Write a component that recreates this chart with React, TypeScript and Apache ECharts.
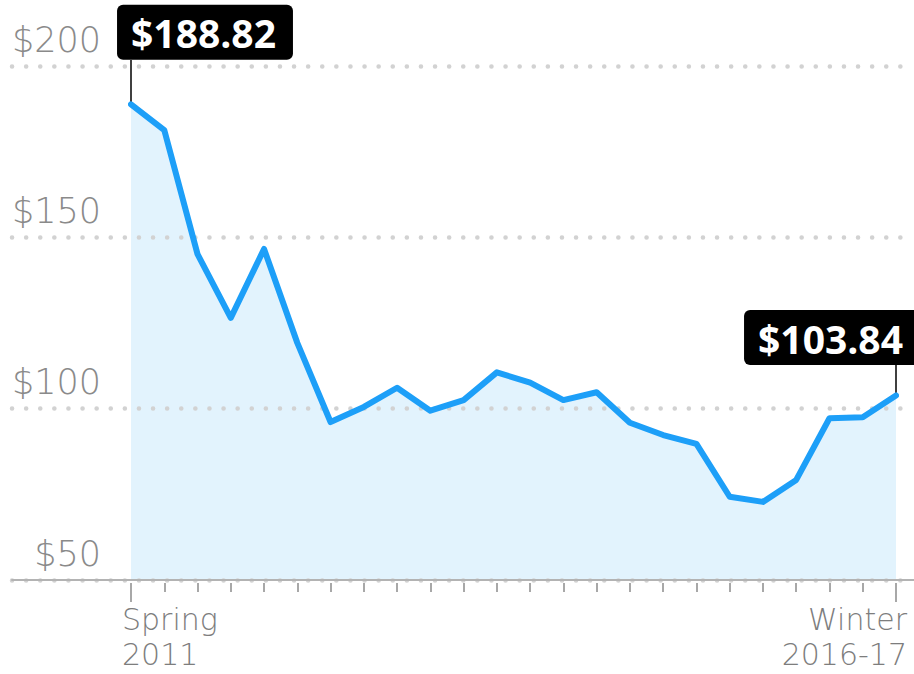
import React, { useEffect, useRef } from "react";
import * as echarts from "echarts";

const categories = [
  "Spring 2011", "Summer 2011", "Fall 2011", "Winter 2011-12",
  "Spring 2012", "Summer 2012", "Fall 2012", "Winter 2012-13",
  "Spring 2013", "Summer 2013", "Fall 2013", "Winter 2013-14",
  "Spring 2014", "Summer 2014", "Fall 2014", "Winter 2014-15",
  "Spring 2015", "Summer 2015", "Fall 2015", "Winter 2015-16",
  "Spring 2016", "Summer 2016", "Fall 2016", "Winter 2016-17",
];

const prices = [
  188.82, 181.3, 145.1, 126.5, 146.6, 119.2, 96.1, 100.5,
  106.1, 99.4, 102.5, 110.6, 107.6, 102.5, 104.8, 95.9,
  92.3, 89.7, 74.3, 72.8, 79.2, 97.2, 97.5, 103.84,
];

const yTicks = [50, 100, 150, 200];

const W = 914;
const H = 674;
const AXIS_Y = 580;
const TOP_GRID_Y = 66;
const unitsPerPx = (yTicks[yTicks.length - 1] - yTicks[0]) / (AXIS_Y - TOP_GRID_Y);
const dataMax = yTicks[0] + AXIS_Y * unitsPerPx;
const valueAtY = (y: number) => yTicks[0] + (AXIS_Y - y) * unitsPerPx;

const LIGHT = "DejaVu Sans";
const BOLD = "Open Sans";

export default function App() {
  const ref = useRef<HTMLDivElement>(null);

  useEffect(() => {
    if (!ref.current) return;
    const chart = echarts.init(ref.current, undefined, { renderer: "svg" });
    const last = prices.length - 1;
    const isEnd = (i: number) => i === 0 || i === last;

    const calloutBase = {
      show: true,
      position: "top",
      backgroundColor: "#000",
      color: "#fff",
      fontFamily: BOLD,
      fontWeight: 700,
      fontSize: 39,
      lineHeight: 46,
      padding: [5, 17, 4, 14],
      borderRadius: 6,
      formatter: (p: any) => "$" + Number(p.value).toFixed(2),
    };

    const lineData = prices.map((v, i) => {
      if (i === 0) {
        return { value: v, label: { ...calloutBase, distance: 44, offset: [74, 0] } };
      }
      if (i === last) {
        return { value: v, label: { ...calloutBase, distance: 30, offset: [-64, 0] } };
      }
      return { value: v };
    });

    const labelCats = categories.map((c, i) => {
      if (i === 0) return { value: c, textStyle: { align: "left", padding: [0, 0, 0, -9] } };
      if (i === last) return { value: c, textStyle: { align: "right", padding: [0, -11, 0, 0] } };
      return { value: c };
    });

    const option: any = {
      animation: false,
      grid: [
        { left: 12, right: 0, top: TOP_GRID_Y, bottom: H - AXIS_Y, containLabel: false, outerBoundsMode: "none" },
        { left: 131, right: W - 896, top: 0, bottom: H - AXIS_Y, containLabel: false, outerBoundsMode: "none" },
      ],
      xAxis: [
        {
          type: "value",
          gridIndex: 0,
          min: 0,
          max: 1,
          axisLine: { show: true, lineStyle: { color: "#b3b3b3", width: 2 } },
          axisTick: { show: false },
          axisLabel: { show: false },
          splitLine: { show: false },
          z: 4,
        },
        {
          type: "category",
          gridIndex: 1,
          position: "bottom",
          data: categories,
          boundaryGap: false,
          offset: 3,
          axisLine: { show: false },
          axisTick: { show: true, interval: 0, length: 9, lineStyle: { color: "#a8a8a8", width: 2 } },
          axisLabel: { show: false },
          splitLine: { show: false },
        },
        {
          type: "category",
          gridIndex: 1,
          position: "bottom",
          data: labelCats,
          boundaryGap: false,
          offset: 3,
          axisLine: { show: false },
          axisTick: {
            show: true,
            interval: (i: number) => isEnd(i),
            length: 19,
            lineStyle: { color: "#a8a8a8", width: 2 },
          },
          axisLabel: {
            show: true,
            interval: (i: number) => isEnd(i),
            formatter: (v: string) => v.replace(" ", "\n"),
            fontFamily: LIGHT,
            fontWeight: 200,
            fontSize: 30,
            lineHeight: 35,
            color: "#7d7d7d",
            margin: 19,
            hideOverlap: false,
          },
          splitLine: { show: false },
        },
      ],
      yAxis: [
        {
          type: "value",
          gridIndex: 0,
          min: yTicks[0],
          max: yTicks[yTicks.length - 1],
          interval: 50,
          axisLine: { show: false },
          axisTick: { show: false },
          axisLabel: {
            inside: true,
            margin: 89,
            align: "right",
            verticalAlign: "bottom",
            padding: [0, 0, 9, 0],
            fontFamily: LIGHT,
            fontWeight: 200,
            fontSize: 35,
            color: "#8a8a8a",
            formatter: (v: number) => "$" + v,
          },
          splitLine: {
            show: true,
            lineStyle: { color: "#d2d2d2", width: 4.5, type: [0.1, 14], cap: "round" },
          },
          z: 2,
        },
        {
          type: "value",
          gridIndex: 1,
          min: yTicks[0],
          max: dataMax,
          show: false,
          splitLine: { show: false },
        },
      ],
      series: [
        {
          type: "line",
          xAxisIndex: 1,
          yAxisIndex: 1,
          data: prices,
          symbol: "none",
          lineStyle: { width: 0, opacity: 0 },
          areaStyle: { color: "#e2f3fd", opacity: 1 },
          z: 1,
          silent: true,
        },
        {
          type: "line",
          xAxisIndex: 1,
          yAxisIndex: 1,
          data: lineData,
          symbol: "circle",
          symbolSize: 1,
          showSymbol: true,
          showAllSymbol: true,
          itemStyle: { color: "rgba(0,0,0,0)" },
          lineStyle: { color: "#1d9ff8", width: 6, join: "round", cap: "round" },
          z: 5,
          markLine: {
            silent: true,
            symbol: "none",
            label: { show: false },
            lineStyle: { color: "#000", width: 1.5, type: "solid" },
            data: [
              [{ coord: [0, prices[0]] }, { coord: [0, valueAtY(60)] }],
              [{ coord: [last, prices[last]] }, { coord: [last, valueAtY(365)] }],
            ],
          },
        },
      ],
    };

    chart.setOption(option);
    return () => chart.dispose();
  }, []);

  return (
    <div
      ref={ref}
      style={{ position: "fixed", left: 0, top: 0, width: W, height: H, background: "#fff" }}
    />
  );
}
